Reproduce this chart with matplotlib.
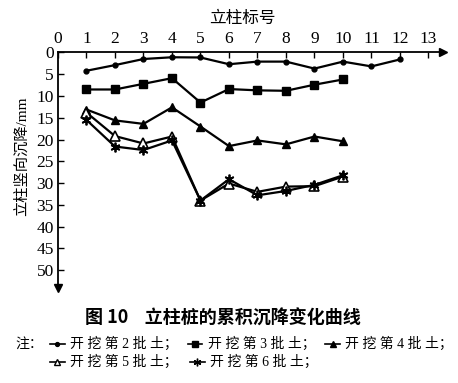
import numpy as np
import matplotlib
matplotlib.use("Agg")
import matplotlib.pyplot as plt
from matplotlib.lines import Line2D

plt.rcParams['font.family'] = ['Liberation Serif', 'Noto Sans CJK SC', 'DejaVu Sans']

# settlement of each column (mm) after each excavation stage
cols_12 = [1, 2, 3, 4, 5, 6, 7, 8, 9, 10, 11, 12]
cols_10 = [1, 2, 3, 4, 5, 6, 7, 8, 9, 10]
stage2 = [4.2, 2.9, 1.5, 1.1, 1.15, 2.7, 2.1, 2.1, 3.7, 2.1, 3.2, 1.6]
stage3 = [8.5, 8.5, 7.2, 5.9, 11.5, 8.4, 8.7, 8.8, 7.4, 6.2]
stage4 = [13.1, 15.6, 16.4, 12.6, 17.0, 21.5, 20.2, 21.1, 19.3, 20.4]
stage5 = [13.8, 19.2, 20.9, 19.3, 34.0, 30.1, 32.0, 30.8, 30.7, 28.5]
stage6 = [15.5, 21.6, 22.4, 20.2, 34.0, 29.1, 32.8, 31.8, 30.4, 28.2]

xticks = list(range(0, 14))
yticks = list(range(0, 55, 5))

fig = plt.figure(figsize=(4.58, 3.83), dpi=100)
ax = fig.add_axes([0.1266, 0.249, 0.84, 0.614])

lw = 1.6
ax.plot(cols_12, stage2, color='k', lw=lw, marker='o', ms=3.5)
ax.plot(cols_10, stage3, color='k', lw=lw, marker='s', ms=5.5)
ax.plot(cols_10, stage4, color='k', lw=lw, marker='^', ms=5.5)
ax.plot(cols_10, stage5, color='k', lw=lw, marker='^', ms=6.5, mfc='white', mew=1.2)
ax.plot(cols_10, stage6, color='k', lw=lw, marker=(6, 2, 0), ms=7, mew=1.3)

ax.set_xlim(0, 13.5)
ax.set_ylim(54, 0)
ax.xaxis.tick_top()
ax.xaxis.set_label_position('top')
ax.set_xticks(xticks)
ax.set_yticks(yticks)
ax.tick_params(axis='both', direction='in', length=4, width=1, labelsize=12.5)
ax.tick_params(axis='x', pad=4)
ax.tick_params(axis='y', pad=3)
for s in ['bottom', 'right']:
    ax.spines[s].set_visible(False)
for s in ['top', 'left']:
    ax.spines[s].set_linewidth(1.3)

ax.plot(1, 1, '>k', ms=6, transform=ax.transAxes, clip_on=False)
ax.plot(0, 0, 'vk', ms=6, transform=ax.transAxes, clip_on=False)

ax.set_xlabel('立柱标号', fontsize=12)
ax.set_ylabel('立柱竖向沉降/mm', fontsize=11)
ax.xaxis.set_label_coords(0.478, 1.125)
ax.yaxis.set_label_coords(-0.076, 0.56)

fig.text(0.487, 0.17, '图 10    立柱桩的累积沉降变化曲线', ha='center', va='center',
         fontsize=13, fontweight='bold', family=['Noto Sans CJK SC'])

# note lines with small marker keys
fs = 10
y1, y2 = 0.102, 0.055
fig.text(0.033, y1, '注：', fontsize=fs, va='center')
keys = [
    (0.109, y1, dict(marker='o', ms=2.8), '开 挖 第 2 批 土；'),
    (0.41, y1, dict(marker='s', ms=4), '开 挖 第 3 批 土；'),
    (0.71, y1, dict(marker='^', ms=4.5), '开 挖 第 4 批 土；'),
    (0.109, y2, dict(marker='^', ms=5, mfc='white'), '开 挖 第 5 批 土；'),
    (0.415, y2, dict(marker=(6, 2, 0), ms=5.5), '开 挖 第 6 批 土；'),
]
for kx, ky, mk, label in keys:
    fig.add_artist(Line2D([kx, kx + 0.016, kx + 0.032], [ky, ky, ky], color='k', lw=1.2,
                          transform=fig.transFigure, markevery=[1], **mk))
    fig.text(kx + 0.044, ky, label, fontsize=fs, va='center')

fig.savefig('out.png', dpi=100)
